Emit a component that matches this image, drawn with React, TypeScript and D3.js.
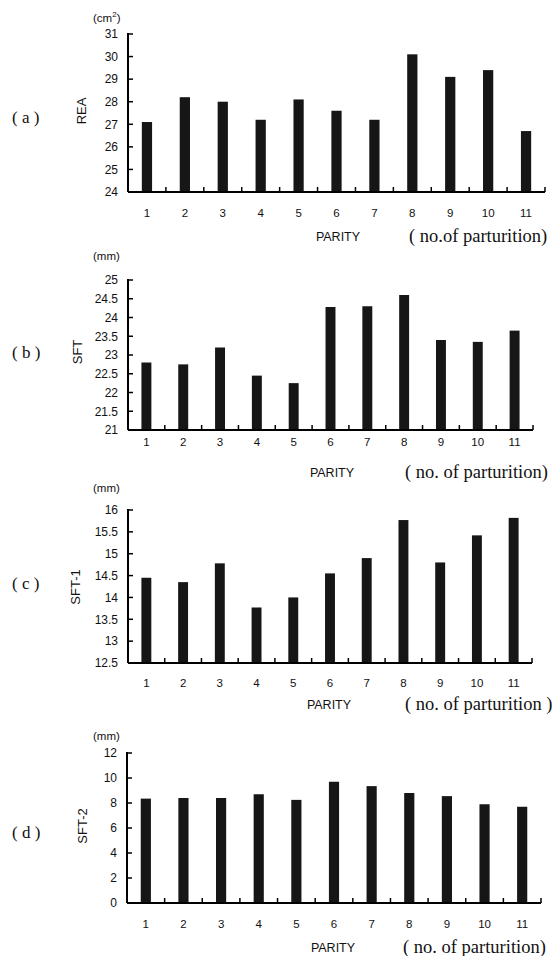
import React, { useRef, useEffect } from 'react';
import * as d3 from 'd3';

// categories (parity)
const parity = ["1", "2", "3", "4", "5", "6", "7", "8", "9", "10", "11"];

// series values
const reaValues = [27.1, 28.2, 28.0, 27.2, 28.1, 27.6, 27.2, 30.1, 29.1, 29.4, 26.7];
const sftValues = [22.8, 22.75, 23.2, 22.45, 22.25, 24.28, 24.3, 24.6, 23.4, 23.35, 23.65];
const sft1Values = [14.45, 14.35, 14.78, 13.77, 14.0, 14.55, 14.9, 15.77, 14.8, 15.42, 15.82];
const sft2Values = [8.35, 8.4, 8.4, 8.7, 8.25, 9.7, 9.35, 8.8, 8.55, 7.9, 7.7];

// tick labels
const reaTicks = [24, 25, 26, 27, 28, 29, 30, 31];
const sftTicks = [21, 21.5, 22, 22.5, 23, 23.5, 24, 24.5, 25];
const sft1Ticks = [12.5, 13, 13.5, 14, 14.5, 15, 15.5, 16];
const sft2Ticks = [0, 2, 4, 6, 8, 10, 12];

const panelLetters = ["( a )", "( b )", "( c )", "( d )"];
const yLabels = ["REA", "SFT", "SFT-1", "SFT-2"];
const unitLabels = ["cm", "(mm)", "(mm)", "(mm)"];
const parturitionLabels = ["( no.of parturition)", "( no. of parturition)", "( no. of parturition )", "( no. of parturition)"];

const App = () => {
  const svgRef = useRef(null);
  const width = 555;
  const height = 956;

  useEffect(() => {
    const svg = d3.select(svgRef.current);
    svg.selectAll("*").remove();

    const sans = "'Liberation Sans', Arial, sans-serif";
    const serif = "'Liberation Serif', 'Times New Roman', serif";

    // layout for each panel
    const panels = [
      { values: reaValues, ticks: reaTicks, top: 34, bottom: 192, left: 128, right: 545, letterY: 117, yLabelX: 86, yLabelY: 111, unitY: 22, catY: 217, parityX: 338, parityY: 241, partX: 409 },
      { values: sftValues, ticks: sftTicks, top: 280, bottom: 430, left: 128, right: 533, letterY: 352, yLabelX: 82, yLabelY: 352, unitY: 260, catY: 446, parityX: 332, parityY: 477, partX: 405 },
      { values: sft1Values, ticks: sft1Ticks, top: 510, bottom: 663, left: 128, right: 532, letterY: 583, yLabelX: 80, yLabelY: 587, unitY: 492, catY: 687, parityX: 329, parityY: 709, partX: 405 },
      { values: sft2Values, ticks: sft2Ticks, top: 753, bottom: 903, left: 127, right: 541, letterY: 832, yLabelX: 87, yLabelY: 826, unitY: 740, catY: 928, parityX: 333, parityY: 952, partX: 403 },
    ];

    panels.forEach((p, i) => {
      const g = svg.append("g");

      const x = d3.scaleBand()
        .domain(parity)
        .range([p.left, p.right])
        .padding(0);

      const y = d3.scaleLinear()
        .domain([p.ticks[0], p.ticks[p.ticks.length - 1]])
        .range([p.bottom, p.top]);

      const barW = x.bandwidth() * 0.27;

      // bars
      g.selectAll("rect.bar")
        .data(p.values)
        .join("rect")
        .attr("class", "bar")
        .attr("x", (d, j) => x(parity[j]) + x.bandwidth() / 2 - barW / 2)
        .attr("y", d => y(d))
        .attr("width", barW)
        .attr("height", d => y(p.ticks[0]) - y(d))
        .attr("fill", "#161616");

      // y axis
      g.append("line")
        .attr("x1", p.left).attr("x2", p.left)
        .attr("y1", y.range()[1] - 1).attr("y2", p.bottom)
        .attr("stroke", "#000").attr("stroke-width", 2);

      g.selectAll("line.ytick")
        .data(p.ticks.slice(1))
        .join("line")
        .attr("class", "ytick")
        .attr("x1", p.left).attr("x2", p.left + 5)
        .attr("y1", d => y(d)).attr("y2", d => y(d))
        .attr("stroke", "#000").attr("stroke-width", 1.5);

      g.selectAll("text.ytl")
        .data(p.ticks)
        .join("text")
        .attr("class", "ytl")
        .attr("x", p.left - 10)
        .attr("y", d => y(d))
        .attr("dy", "0.36em")
        .attr("text-anchor", "end")
        .attr("font-family", sans)
        .attr("font-size", "12px")
        .attr("fill", "#111")
        .text(d => String(d));

      // x axis
      g.append("line")
        .attr("x1", p.left).attr("x2", p.right)
        .attr("y1", p.bottom).attr("y2", p.bottom)
        .attr("stroke", "#000").attr("stroke-width", 2);

      g.selectAll("line.xtick")
        .data(parity)
        .join("line")
        .attr("class", "xtick")
        .attr("x1", d => x(d) + x.bandwidth()).attr("x2", d => x(d) + x.bandwidth())
        .attr("y1", p.bottom).attr("y2", p.bottom - 5)
        .attr("stroke", "#000").attr("stroke-width", 1.5);

      g.selectAll("text.xtl")
        .data(parity)
        .join("text")
        .attr("class", "xtl")
        .attr("x", d => x(d) + x.bandwidth() / 2)
        .attr("y", p.catY)
        .attr("text-anchor", "middle")
        .attr("font-family", sans)
        .attr("font-size", "11.5px")
        .attr("fill", "#111")
        .text(d => d);

      // panel letter
      g.append("text")
        .attr("x", 12)
        .attr("y", p.letterY)
        .attr("dy", "0.35em")
        .attr("font-family", serif)
        .attr("font-size", "17px")
        .attr("fill", "#111")
        .text(panelLetters[i]);

      // y axis label
      g.append("text")
        .attr("transform", `translate(${p.yLabelX},${p.yLabelY}) rotate(-90)`)
        .attr("text-anchor", "middle")
        .attr("font-family", sans)
        .attr("font-size", "13px")
        .attr("fill", "#111")
        .text(yLabels[i]);

      // unit label
      const unit = g.append("text")
        .attr("x", 93)
        .attr("y", p.unitY)
        .attr("font-family", sans)
        .attr("font-size", "11.5px")
        .attr("fill", "#111");
      if (i === 0) {
        unit.append("tspan").text("(cm");
        unit.append("tspan").attr("dy", -5).attr("font-size", "8px").text("2");
        unit.append("tspan").attr("dy", 5).text(")");
      } else {
        unit.text(unitLabels[i]);
      }

      // x axis labels
      g.append("text")
        .attr("x", p.parityX)
        .attr("y", p.parityY)
        .attr("text-anchor", "middle")
        .attr("font-family", sans)
        .attr("font-size", "12.5px")
        .attr("fill", "#111")
        .text("PARITY");

      g.append("text")
        .attr("x", p.partX)
        .attr("y", p.parityY + 1)
        .attr("font-family", serif)
        .attr("font-size", "18.5px")
        .attr("fill", "#111")
        .text(parturitionLabels[i]);
    });
  }, []);

  return (
    <svg
      ref={svgRef}
      width={width}
      height={height}
      style={{ position: "absolute", left: 0, top: 0, background: "#fff" }}
    />
  );
};

export default App;
